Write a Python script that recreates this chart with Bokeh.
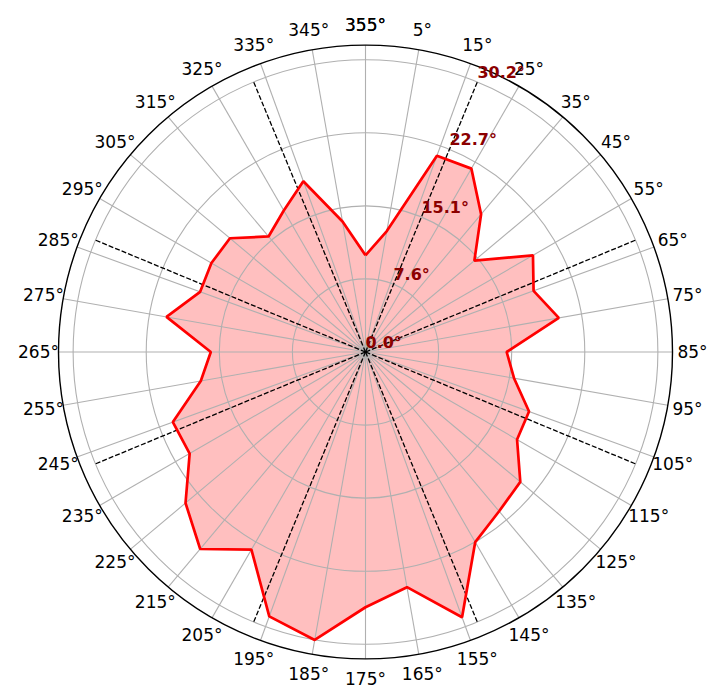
import numpy as np
from bokeh.plotting import figure
from bokeh.models import Range1d
from bokeh.core.properties import value
from bokeh.embed import file_html
from bokeh.resources import INLINE

# ---- data ----
directions = [0, 10, 20, 30, 40, 50, 60, 70, 80, 90, 100, 110, 120, 130, 140, 150, 160, 170,
              180, 190, 200, 210, 220, 230, 240, 250, 260, 270, 280, 290, 300, 310, 320, 330, 340, 350]
magnitudes = [10.0, 12.7, 21.6, 21.9, 18.6, 14.7, 20.0, 18.5, 20.3, 14.6, 15.6, 18.0, 18.1, 20.9,
              21.5, 22.7, 29.2, 24.7, 26.4, 30.24, 29.1, 23.6, 26.6, 24.3, 21.0, 21.2, 17.3, 16.0,
              20.9, 18.2, 18.4, 18.3, 15.6, 16.9, 18.8, 13.7]
tick_positions = list(range(0, 361, 10))
tick_labels = ["355°", "5°", "15°", "25°", "35°", "45°", "55°", "65°", "75°", "85°", "95°", "105°",
               "115°", "125°", "135°", "145°", "155°", "165°", "175°", "185°", "195°", "205°",
               "215°", "225°", "235°", "245°", "255°", "265°", "275°", "285°", "295°", "305°",
               "315°", "325°", "335°", "345°", "355°"]
sector_angles = [22.5, 67.5, 112.5, 157.5, 202.5, 247.5, 292.5, 337.5]

# ---- layout ----
W, H = 718, 698
CX, CY = 365, 351.5
R_PX = 307
rmax_data = max(magnitudes)
rlim = rmax_data * 1.05
scale = R_PX / rlim
rticks = [rmax_data * k / 4 for k in range(5)]
rtick_labels = [f"{v:.1f}°" for v in rticks]


def polar(r, deg):
    a = np.deg2rad(np.asarray(deg, dtype=float))
    r = np.asarray(r, dtype=float)
    return r * np.sin(a), r * np.cos(a)


p = figure(width=W, height=H, output_backend="svg", toolbar_location=None,
           x_axis_location=None, y_axis_location=None, min_border=0,
           x_range=Range1d(-CX / scale, (W - CX) / scale),
           y_range=Range1d(-(H - CY) / scale, CY / scale))
p.outline_line_color = None
p.grid.visible = False
p.background_fill_color = "white"
p.border_fill_color = "white"

# filled area
xs, ys = polar(magnitudes + magnitudes[:1], directions + directions[:1])
p.patch(list(xs), list(ys), fill_color="red", fill_alpha=0.25, line_color=None)

# radial grid lines
gx, gy = polar([rlim] * 36, directions)
p.segment(x0=[0] * 36, y0=[0] * 36, x1=list(gx), y1=list(gy), line_color="#b0b0b0", line_width=1.1)
# grid circles
for rt in rticks[1:]:
    p.circle(x=[0], y=[0], radius=rt, fill_color=None, line_color="#b0b0b0", line_width=1.1)
# outer frame circle
p.circle(x=[0], y=[0], radius=rlim, fill_color=None, line_color="black", line_width=1.4)

# dashed sector lines
dx, dy = polar([rmax_data] * len(sector_angles), sector_angles)
p.segment(x0=[0] * len(dx), y0=[0] * len(dx), x1=list(dx), y1=list(dy),
          line_color="black", line_width=1.3, line_dash="5 2")

# outline
p.line(list(xs), list(ys), line_color="red", line_width=2.7)

# angular tick labels
lx, ly = polar([327 / scale] * len(tick_positions), tick_positions)
p.text(x=list(lx), y=list(ly), text=tick_labels, text_font=value("DejaVu Sans"),
       text_font_size="17px", text_align="center", text_baseline="middle", text_color="black")

# radial labels
rx, ry = polar(rticks, [22.5] * len(rticks))
p.text(x=list(rx), y=list(ry), text=rtick_labels, text_font=value("DejaVu Sans"),
       text_font_size="16px", text_font_style="bold", text_color="#8b0000",
       text_align="left", text_baseline="bottom")

open("out.html", "w").write(file_html(p, INLINE))
